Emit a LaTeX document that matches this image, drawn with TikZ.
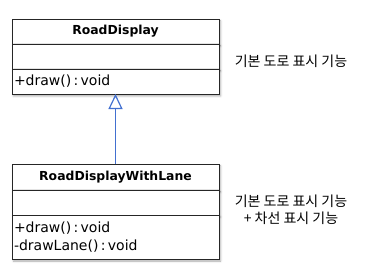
\documentclass[tikz,border=0pt]{standalone}
\usepackage{fontspec}
\setmainfont{DejaVu Sans}
\newfontfamily\korean{Noto Sans CJK KR}
\definecolor{inheritblue}{RGB}{66,112,208}
\usetikzlibrary{positioning,shadows.blur,arrows.meta}

\begin{document}
\begin{tikzpicture}[x=1pt,y=1pt,
  classpart/.style={draw=black!85,fill=white,minimum width=207pt,inner sep=0pt,outer sep=0pt,
                    blur shadow={shadow xshift=1.5pt,shadow yshift=-2pt,
                                 shadow blur radius=2pt,shadow opacity=35}},
  classname/.style={classpart,minimum height=25pt,font=\fontsize{12.4}{15}\selectfont\bfseries},
  classops/.style={classpart,text width=203pt,align=left,
                   font=\fontsize{14}{18}\selectfont},
  note/.style={align=center,font=\korean\fontsize{14}{17}\selectfont},
  inherit/.style={draw=inheritblue,line width=1.4pt,
                  -{Triangle[open,length=15pt,width=14pt,line width=1.2pt]}},
]
\useasboundingbox (0,0) rectangle (376,274);

% Base class
\node[classname] (road) at (115.5,242.5) {RoadDisplay};
\node[classpart,minimum height=25pt,below=0pt of road] (roadattr) {};
\node[classops,minimum height=25pt,below=0pt of roadattr] (roadops) {+draw()\,:\,void};

% Derived class
\node[classname,minimum height=26pt] (lane) at (115.5,97) {RoadDisplayWithLane};
\node[classpart,minimum height=25pt,below=0pt of lane] (laneattr) {};
\node[classops,minimum height=44pt,below=0pt of laneattr] (laneops)
  {+draw()\,:\,void\\-drawLane()\,:\,void};

% Generalization
\draw[inherit] (lane.north) -- (roadops.south);

% Notes
\node[note] (roadnote) at (291,213) {기본 도로 표시 기능};
\node[note] (lanenote) at (291,64.5) {기본 도로 표시 기능\\+ 차선 표시 기능};

\end{tikzpicture}
\end{document}
